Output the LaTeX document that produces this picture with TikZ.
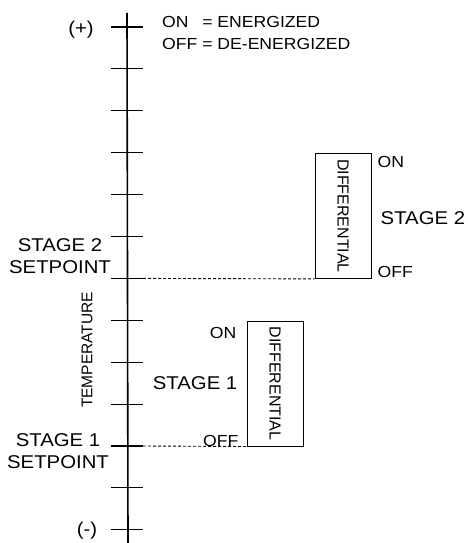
\documentclass[tikz,border=0pt]{standalone}
\usepackage{fontspec}
\setmainfont{Liberation Sans}[FakeStretch=1.1]
\newfontfamily\difffont{Liberation Sans}
\usetikzlibrary{positioning}

\begin{document}
\begin{tikzpicture}[x=1pt,y=-1pt]
\tikzstyle{lbl} = [inner sep=0pt, font=\fontsize{18.5}{22}\selectfont]
\tikzstyle{small} = [inner sep=0pt, font=\fontsize{16}{22}\selectfont]
\tikzstyle{diffbox} = [rectangle, draw, line width=1pt, minimum width=56pt, minimum height=125pt, inner sep=0pt, font=\difffont\fontsize{16}{18}\selectfont]
\tikzstyle{tick} = [line width=1.1pt]
\tikzstyle{setline} = [dash pattern=on 3pt off 2pt, line width=0.9pt]

\useasboundingbox (0,0) rectangle (467,543);

% temperature axis
\coordinate (top) at (127,13);
\coordinate (bottom) at (128,543);
\draw [line width=1.6pt] (top) -- (bottom);
\foreach \i in {0,...,12} {
  \draw [tick] (111,{27+41.9*\i}) -- (143,{27+41.9*\i});
}
\coordinate (sp2) at (143,278.4);
\coordinate (sp1) at (143,446);

\node (plus) [lbl] at (81,30) {(+)};
\node (minus) [lbl] at (87,531) {(-)};
\node (temp) [inner sep=0pt, font=\difffont\fontsize{15.5}{18}\selectfont, rotate=90] at (87,350) {TEMPERATURE};

% legend
\node (legend) [small, anchor=north west] at (162,12) {%
  \begin{tabular}{@{}l@{\ }l@{}}ON & = ENERGIZED\\OFF & = DE-ENERGIZED\end{tabular}};

% differential boxes
\node (diff2) [diffbox] at (343,215.9) {\rotatebox{-90}{DIFFERENTIAL}};
\node (diff1) [diffbox] at (275,383.5) {\rotatebox{-90}{DIFFERENTIAL}};

\draw [setline] (sp2) -- (diff2.south west);
\draw [setline] (sp1) -- (diff1.south west);

% stage 2 labels
\node (on2) [small, anchor=west] at ([xshift=6pt, yshift=-9pt]diff2.north east) {ON};
\node (stage2) [lbl, anchor=west] at ([xshift=9pt, yshift=-2pt]diff2.east) {STAGE 2};
\node (off2) [small, anchor=west] at ([xshift=6pt, yshift=7pt]diff2.south east) {OFF};

% stage 1 labels
\node (on1) [small, anchor=east] at ([xshift=-10pt, yshift=-12pt]diff1.north west) {ON};
\node (stage1) [lbl, anchor=east] at ([xshift=-9pt]diff1.west) {STAGE 1};
\node (off1) [small, anchor=east] at ([xshift=-8pt, yshift=6pt]diff1.south west) {OFF};

% setpoints
\node (set2) [lbl, align=center] at (60,256) {STAGE 2\\SETPOINT};
\node (set1) [lbl, align=center] at (58,451) {STAGE 1\\SETPOINT};

\end{tikzpicture}
\end{document}
